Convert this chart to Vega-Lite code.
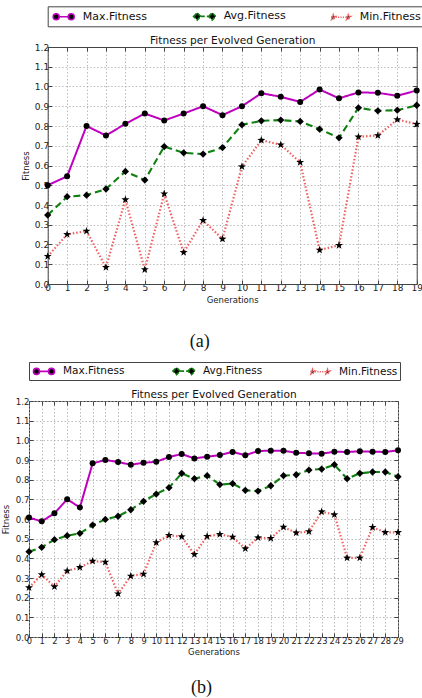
{
"$schema":"https://vega.github.io/schema/vega-lite/v6.json",
"background":"white",
"padding":{"left":0,"top":5,"right":0,"bottom":0},
"datasets":{
"a":[
{"g":0,"s":"Max.Fitness","v":0.50},{"g":1,"s":"Max.Fitness","v":0.545},{"g":2,"s":"Max.Fitness","v":0.80},{"g":3,"s":"Max.Fitness","v":0.752},{"g":4,"s":"Max.Fitness","v":0.811},{"g":5,"s":"Max.Fitness","v":0.863},{"g":6,"s":"Max.Fitness","v":0.828},{"g":7,"s":"Max.Fitness","v":0.863},{"g":8,"s":"Max.Fitness","v":0.90},{"g":9,"s":"Max.Fitness","v":0.855},{"g":10,"s":"Max.Fitness","v":0.90},{"g":11,"s":"Max.Fitness","v":0.966},{"g":12,"s":"Max.Fitness","v":0.948},{"g":13,"s":"Max.Fitness","v":0.922},{"g":14,"s":"Max.Fitness","v":0.985},{"g":15,"s":"Max.Fitness","v":0.94},{"g":16,"s":"Max.Fitness","v":0.97},{"g":17,"s":"Max.Fitness","v":0.968},{"g":18,"s":"Max.Fitness","v":0.953},{"g":19,"s":"Max.Fitness","v":0.98},
{"g":0,"s":"Avg.Fitness","v":0.349},{"g":1,"s":"Avg.Fitness","v":0.442},{"g":2,"s":"Avg.Fitness","v":0.45},{"g":3,"s":"Avg.Fitness","v":0.481},{"g":4,"s":"Avg.Fitness","v":0.57},{"g":5,"s":"Avg.Fitness","v":0.526},{"g":6,"s":"Avg.Fitness","v":0.696},{"g":7,"s":"Avg.Fitness","v":0.664},{"g":8,"s":"Avg.Fitness","v":0.658},{"g":9,"s":"Avg.Fitness","v":0.691},{"g":10,"s":"Avg.Fitness","v":0.806},{"g":11,"s":"Avg.Fitness","v":0.826},{"g":12,"s":"Avg.Fitness","v":0.83},{"g":13,"s":"Avg.Fitness","v":0.823},{"g":14,"s":"Avg.Fitness","v":0.784},{"g":15,"s":"Avg.Fitness","v":0.74},{"g":16,"s":"Avg.Fitness","v":0.892},{"g":17,"s":"Avg.Fitness","v":0.877},{"g":18,"s":"Avg.Fitness","v":0.88},{"g":19,"s":"Avg.Fitness","v":0.905},
{"g":0,"s":"Min.Fitness","v":0.14},{"g":1,"s":"Min.Fitness","v":0.251},{"g":2,"s":"Min.Fitness","v":0.268},{"g":3,"s":"Min.Fitness","v":0.084},{"g":4,"s":"Min.Fitness","v":0.427},{"g":5,"s":"Min.Fitness","v":0.073},{"g":6,"s":"Min.Fitness","v":0.457},{"g":7,"s":"Min.Fitness","v":0.16},{"g":8,"s":"Min.Fitness","v":0.322},{"g":9,"s":"Min.Fitness","v":0.228},{"g":10,"s":"Min.Fitness","v":0.594},{"g":11,"s":"Min.Fitness","v":0.728},{"g":12,"s":"Min.Fitness","v":0.705},{"g":13,"s":"Min.Fitness","v":0.616},{"g":14,"s":"Min.Fitness","v":0.172},{"g":15,"s":"Min.Fitness","v":0.196},{"g":16,"s":"Min.Fitness","v":0.745},{"g":17,"s":"Min.Fitness","v":0.752},{"g":18,"s":"Min.Fitness","v":0.833},{"g":19,"s":"Min.Fitness","v":0.809}
],
"b":[
{"g":0,"s":"Max.Fitness","v":0.607},{"g":1,"s":"Max.Fitness","v":0.588},{"g":2,"s":"Max.Fitness","v":0.629},{"g":3,"s":"Max.Fitness","v":0.70},{"g":4,"s":"Max.Fitness","v":0.659},{"g":5,"s":"Max.Fitness","v":0.883},{"g":6,"s":"Max.Fitness","v":0.90},{"g":7,"s":"Max.Fitness","v":0.89},{"g":8,"s":"Max.Fitness","v":0.876},{"g":9,"s":"Max.Fitness","v":0.886},{"g":10,"s":"Max.Fitness","v":0.891},{"g":11,"s":"Max.Fitness","v":0.915},{"g":12,"s":"Max.Fitness","v":0.93},{"g":13,"s":"Max.Fitness","v":0.908},{"g":14,"s":"Max.Fitness","v":0.917},{"g":15,"s":"Max.Fitness","v":0.925},{"g":16,"s":"Max.Fitness","v":0.941},{"g":17,"s":"Max.Fitness","v":0.924},{"g":18,"s":"Max.Fitness","v":0.946},{"g":19,"s":"Max.Fitness","v":0.947},{"g":20,"s":"Max.Fitness","v":0.947},{"g":21,"s":"Max.Fitness","v":0.937},{"g":22,"s":"Max.Fitness","v":0.934},{"g":23,"s":"Max.Fitness","v":0.932},{"g":24,"s":"Max.Fitness","v":0.942},{"g":25,"s":"Max.Fitness","v":0.941},{"g":26,"s":"Max.Fitness","v":0.944},{"g":27,"s":"Max.Fitness","v":0.942},{"g":28,"s":"Max.Fitness","v":0.941},{"g":29,"s":"Max.Fitness","v":0.949},
{"g":0,"s":"Avg.Fitness","v":0.434},{"g":1,"s":"Avg.Fitness","v":0.456},{"g":2,"s":"Avg.Fitness","v":0.495},{"g":3,"s":"Avg.Fitness","v":0.515},{"g":4,"s":"Avg.Fitness","v":0.527},{"g":5,"s":"Avg.Fitness","v":0.569},{"g":6,"s":"Avg.Fitness","v":0.598},{"g":7,"s":"Avg.Fitness","v":0.614},{"g":8,"s":"Avg.Fitness","v":0.647},{"g":9,"s":"Avg.Fitness","v":0.69},{"g":10,"s":"Avg.Fitness","v":0.727},{"g":11,"s":"Avg.Fitness","v":0.759},{"g":12,"s":"Avg.Fitness","v":0.832},{"g":13,"s":"Avg.Fitness","v":0.805},{"g":14,"s":"Avg.Fitness","v":0.82},{"g":15,"s":"Avg.Fitness","v":0.775},{"g":16,"s":"Avg.Fitness","v":0.78},{"g":17,"s":"Avg.Fitness","v":0.746},{"g":18,"s":"Avg.Fitness","v":0.742},{"g":19,"s":"Avg.Fitness","v":0.769},{"g":20,"s":"Avg.Fitness","v":0.82},{"g":21,"s":"Avg.Fitness","v":0.825},{"g":22,"s":"Avg.Fitness","v":0.849},{"g":23,"s":"Avg.Fitness","v":0.854},{"g":24,"s":"Avg.Fitness","v":0.876},{"g":25,"s":"Avg.Fitness","v":0.805},{"g":26,"s":"Avg.Fitness","v":0.832},{"g":27,"s":"Avg.Fitness","v":0.839},{"g":28,"s":"Avg.Fitness","v":0.839},{"g":29,"s":"Avg.Fitness","v":0.815},
{"g":0,"s":"Min.Fitness","v":0.251},{"g":1,"s":"Min.Fitness","v":0.317},{"g":2,"s":"Min.Fitness","v":0.256},{"g":3,"s":"Min.Fitness","v":0.336},{"g":4,"s":"Min.Fitness","v":0.354},{"g":5,"s":"Min.Fitness","v":0.386},{"g":6,"s":"Min.Fitness","v":0.381},{"g":7,"s":"Min.Fitness","v":0.22},{"g":8,"s":"Min.Fitness","v":0.31},{"g":9,"s":"Min.Fitness","v":0.32},{"g":10,"s":"Min.Fitness","v":0.48},{"g":11,"s":"Min.Fitness","v":0.517},{"g":12,"s":"Min.Fitness","v":0.51},{"g":13,"s":"Min.Fitness","v":0.42},{"g":14,"s":"Min.Fitness","v":0.512},{"g":15,"s":"Min.Fitness","v":0.522},{"g":16,"s":"Min.Fitness","v":0.508},{"g":17,"s":"Min.Fitness","v":0.449},{"g":18,"s":"Min.Fitness","v":0.505},{"g":19,"s":"Min.Fitness","v":0.502},{"g":20,"s":"Min.Fitness","v":0.559},{"g":21,"s":"Min.Fitness","v":0.53},{"g":22,"s":"Min.Fitness","v":0.536},{"g":23,"s":"Min.Fitness","v":0.637},{"g":24,"s":"Min.Fitness","v":0.622},{"g":25,"s":"Min.Fitness","v":0.402},{"g":26,"s":"Min.Fitness","v":0.402},{"g":27,"s":"Min.Fitness","v":0.558},{"g":28,"s":"Min.Fitness","v":0.532},{"g":29,"s":"Min.Fitness","v":0.532}
]
},
"spacing":10,
"resolve":{"scale":{"x":"independent","y":"independent","color":"independent"},"legend":{"color":"independent"}},
"vconcat":[
{
"width":387.7,"height":237,
"view":{"stroke":null},
"data":{"name":"a"},
"title":{"text":"(a)","orient":"bottom","font":"Liberation Serif","fontSize":18,"fontWeight":"normal","offset":29,"dx":-23,"color":"#111"},
"resolve":{"axis":{"x":"independent","y":"independent"}},
"encoding":{
"x":{"field":"g","type":"quantitative","scale":{"domain":[0,19],"nice":false,"zero":false,"range":[18.7,387.7]},"axis":{"values":[0,1,2,3,4,5,6,7,8,9,10,11,12,13,14,15,16,17,18,19],"format":"d","title":"Generations","labelOverlap":false,"labelFlush":false,"labelPadding":3,"domain":true,"domainColor":"#444","domainWidth":1}},
"y":{"field":"v","type":"quantitative","scale":{"domain":[0,1.2],"nice":false},"axis":{"values":[0,0.1,0.2,0.3,0.4,0.5,0.6,0.7,0.8,0.9,1.0,1.1,1.2],"format":".1f","title":"Fitness","titlePadding":4,"labelPadding":3,"offset":-18.7,"domain":true,"domainColor":"#444","domainWidth":1}}
},
"layer":[
{"mark":{"type":"line","strokeCap":"butt"},
"encoding":{
"color":{"field":"s","type":"nominal","scale":{"domain":["Max.Fitness","Avg.Fitness","Min.Fitness"],"range":["#bf00bf","#108010","#f06060"]},
"legend":{"orient":"none","legendX":18.7,"legendY":-40.7,"direction":"horizontal","columns":3,"title":null,"strokeColor":"#444","padding":3,"columnPadding":42,"labelFont":"DejaVu Sans","labelFontSize":11,"labelColor":"#111","symbolSize":144,"symbolOffset":6,"labelOffset":12,
"encode":{"symbols":{"update":{"shape":{"signal":"datum.value==='Max.Fitness' ? 'M-0.75,0L0.75,0M-1.75,0A0.5,0.5 0 1,0 -0.75,0A0.5,0.5 0 1,0 -1.75,0ZM0.75,0A0.5,0.5 0 1,0 1.75,0A0.5,0.5 0 1,0 0.75,0Z' : datum.value==='Avg.Fitness' ? 'M-0.65,0L0.65,0M-1.85,0L-1.25,-0.6L-0.65,0L-1.25,0.6ZM0.65,0L1.25,-0.6L1.85,0L1.25,0.6Z' : 'M-0.85,0L0.85,0M-1.25,-0.4L-1.156,-0.13L-0.87,-0.124L-1.098,0.05L-1.015,0.324L-1.25,0.16L-1.485,0.324L-1.402,0.05L-1.63,-0.124L-1.344,-0.13ZM1.25,-0.4L1.344,-0.13L1.63,-0.124L1.402,0.05L1.485,0.324L1.25,0.16L1.015,0.324L1.098,0.05L0.87,-0.124L1.156,-0.13Z'"},"fill":{"value":"black"},"fillOpacity":{"value":1},"opacity":{"value":1},"strokeWidth":{"value":1.6},"strokeDash":{"signal":"datum.value==='Max.Fitness' ? [] : datum.value==='Avg.Fitness' ? [4,2] : [1.2,1.2]"}}}}
}},
"strokeDash":{"field":"s","type":"nominal","scale":{"domain":["Max.Fitness","Avg.Fitness","Min.Fitness"],"range":[[1,0],[7,4],[1.5,2]]},"legend":null},
"strokeWidth":{"field":"s","type":"nominal","scale":{"domain":["Max.Fitness","Avg.Fitness","Min.Fitness"],"range":[2,2.2,1.5]},"legend":null}
}},
{"mark":{"type":"point","filled":true,"color":"black","opacity":1},
"encoding":{
"x":{"field":"g","type":"quantitative","axis":{"orient":"top","labels":false,"ticks":true,"grid":false,"domain":true,"domainColor":"#444","domainWidth":1,"values":[0,1,2,3,4,5,6,7,8,9,10,11,12,13,14,15,16,17,18,19],"title":"Fitness per Evolved Generation","titleFontSize":10.6,"titleColor":"#111","titlePadding":1}},
"y":{"field":"v","type":"quantitative","axis":{"orient":"right","labels":false,"ticks":true,"grid":false,"domain":true,"domainColor":"#444","domainWidth":1,"values":[0,0.1,0.2,0.3,0.4,0.5,0.6,0.7,0.8,0.9,1.0,1.1,1.2],"title":null}},
"shape":{"field":"s","type":"nominal","scale":{"domain":["Max.Fitness","Avg.Fitness","Min.Fitness"],"range":["circle","diamond","M0,-1L0.235,-0.324L0.951,-0.309L0.38,0.124L0.588,0.809L0,0.4L-0.588,0.809L-0.38,0.124L-0.951,-0.309L-0.235,-0.324Z"]},"legend":null},
"size":{"field":"s","type":"nominal","scale":{"domain":["Max.Fitness","Avg.Fitness","Min.Fitness"],"range":[36,70,26]},"legend":null}
}}
]
},
{
"width":369,"height":236,
"data":{"name":"b"},
"title":{"text":"(b)","orient":"bottom","font":"Liberation Serif","fontSize":18,"fontWeight":"normal","offset":23,"dx":-12,"color":"#111"},
"resolve":{"axis":{"x":"independent","y":"independent"}},
"encoding":{
"x":{"field":"g","type":"quantitative","scale":{"domain":[0,29],"nice":false,"zero":false},"axis":{"values":[0,1,2,3,4,5,6,7,8,9,10,11,12,13,14,15,16,17,18,19,20,21,22,23,24,25,26,27,28,29],"format":"d","title":"Generations","labelOverlap":false,"labelFlush":false,"labelFontSize":8.3,"labelPadding":3}},
"y":{"field":"v","type":"quantitative","scale":{"domain":[0,1.2],"nice":false},"axis":{"values":[0,0.1,0.2,0.3,0.4,0.5,0.6,0.7,0.8,0.9,1.0,1.1,1.2],"format":".1f","title":"Fitness","titlePadding":5,"labelPadding":4,"labelFontSize":8.6}}
},
"layer":[
{"mark":{"type":"line","strokeCap":"butt"},
"encoding":{
"color":{"field":"s","type":"nominal","scale":{"domain":["Max.Fitness","Avg.Fitness","Min.Fitness"],"range":["#bf00bf","#108010","#f06060"]},
"legend":{"orient":"none","legendX":0,"legendY":-39,"direction":"horizontal","columns":3,"title":null,"strokeColor":"#444","padding":2,"columnPadding":44,"labelFont":"DejaVu Sans","labelFontSize":10.5,"labelColor":"#111","symbolSize":144,"symbolOffset":6,"labelOffset":12,
"encode":{"symbols":{"update":{"shape":{"signal":"datum.value==='Max.Fitness' ? 'M-0.75,0L0.75,0M-1.75,0A0.5,0.5 0 1,0 -0.75,0A0.5,0.5 0 1,0 -1.75,0ZM0.75,0A0.5,0.5 0 1,0 1.75,0A0.5,0.5 0 1,0 0.75,0Z' : datum.value==='Avg.Fitness' ? 'M-0.65,0L0.65,0M-1.85,0L-1.25,-0.6L-0.65,0L-1.25,0.6ZM0.65,0L1.25,-0.6L1.85,0L1.25,0.6Z' : 'M-0.85,0L0.85,0M-1.25,-0.4L-1.156,-0.13L-0.87,-0.124L-1.098,0.05L-1.015,0.324L-1.25,0.16L-1.485,0.324L-1.402,0.05L-1.63,-0.124L-1.344,-0.13ZM1.25,-0.4L1.344,-0.13L1.63,-0.124L1.402,0.05L1.485,0.324L1.25,0.16L1.015,0.324L1.098,0.05L0.87,-0.124L1.156,-0.13Z'"},"fill":{"value":"black"},"fillOpacity":{"value":1},"opacity":{"value":1},"strokeWidth":{"value":1.6},"strokeDash":{"signal":"datum.value==='Max.Fitness' ? [] : datum.value==='Avg.Fitness' ? [4,2] : [1.2,1.2]"}}}}
}},
"strokeDash":{"field":"s","type":"nominal","scale":{"domain":["Max.Fitness","Avg.Fitness","Min.Fitness"],"range":[[1,0],[7,4],[1.5,2]]},"legend":null},
"strokeWidth":{"field":"s","type":"nominal","scale":{"domain":["Max.Fitness","Avg.Fitness","Min.Fitness"],"range":[2,2.2,1.5]},"legend":null}
}},
{"mark":{"type":"point","filled":true,"color":"black","opacity":1},
"encoding":{
"x":{"field":"g","type":"quantitative","axis":{"orient":"top","labels":false,"ticks":true,"grid":false,"domain":false,"values":[0,1,2,3,4,5,6,7,8,9,10,11,12,13,14,15,16,17,18,19,20,21,22,23,24,25,26,27,28,29],"title":"Fitness per Evolved Generation","titleFontSize":10.6,"titleColor":"#111","titlePadding":1}},
"y":{"field":"v","type":"quantitative","axis":{"orient":"right","labels":false,"ticks":true,"grid":false,"domain":false,"values":[0,0.1,0.2,0.3,0.4,0.5,0.6,0.7,0.8,0.9,1.0,1.1,1.2],"title":null}},
"shape":{"field":"s","type":"nominal","scale":{"domain":["Max.Fitness","Avg.Fitness","Min.Fitness"],"range":["circle","diamond","M0,-1L0.235,-0.324L0.951,-0.309L0.38,0.124L0.588,0.809L0,0.4L-0.588,0.809L-0.38,0.124L-0.951,-0.309L-0.235,-0.324Z"]},"legend":null},
"size":{"field":"s","type":"nominal","scale":{"domain":["Max.Fitness","Avg.Fitness","Min.Fitness"],"range":[36,70,26]},"legend":null}
}}
]
}
],
"config":{
"view":{"stroke":"#444","strokeWidth":1},
"axis":{"labelFont":"DejaVu Sans","labelFontSize":9,"labelColor":"#222","titleFont":"DejaVu Sans","titleFontSize":8.5,"titleFontWeight":"normal","titleColor":"#222","grid":true,"gridColor":"#aaa","gridDash":[1.5,2],"gridWidth":0.8,"domain":false,"ticks":true,"tickColor":"#444","tickSize":-4,"labelPadding":2,"titlePadding":3},
"title":{"font":"DejaVu Sans","fontSize":10.6,"fontWeight":"normal","color":"#111"}
}
}
